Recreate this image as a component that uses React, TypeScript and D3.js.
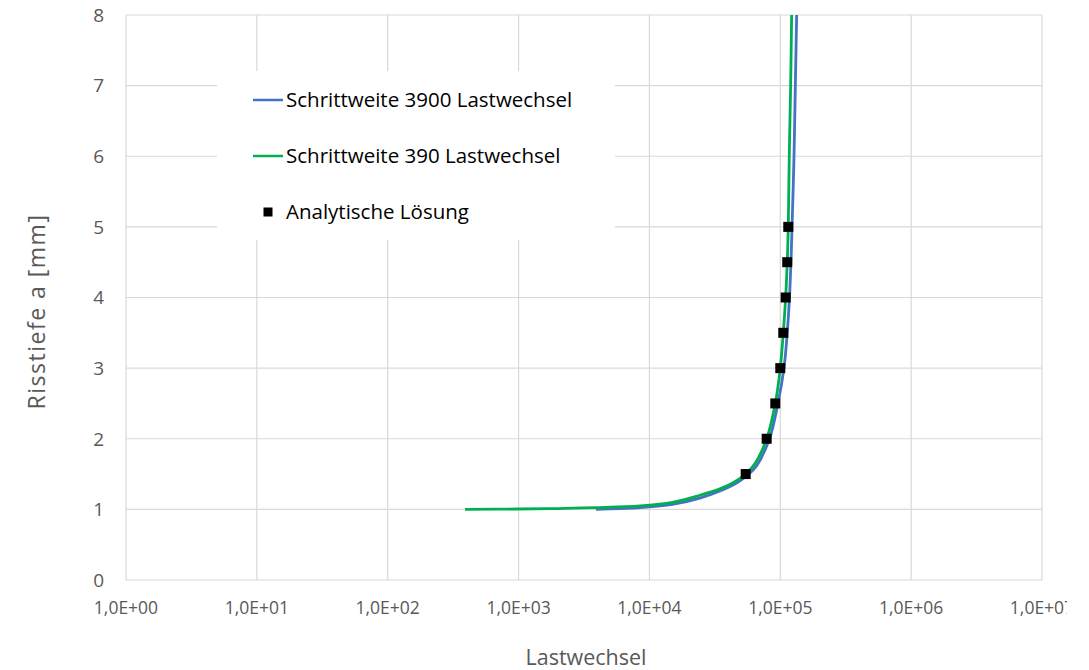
import React from "react";
import * as d3 from "d3";

// Load cycles (N) and crack depth a [mm] for the two step sizes
const STEP3900_N = [3900, 6000, 8470, 15000, 24300, 34600, 47000, 56600, 66000, 82700, 96000, 106700, 113000, 117600, 120600, 123000, 127300, 130300, 133400];
const STEP3900_A = [1.0, 1.012, 1.025, 1.07, 1.16, 1.26, 1.38, 1.49, 1.62, 2.0, 2.5, 3.0, 3.5, 4.0, 4.5, 5.0, 6.0, 7.0, 8.0];

const STEP390_N = [390, 1000, 2000, 3840, 8470, 15000, 24300, 34600, 44000, 54400, 64100, 78700, 91600, 100000, 105400, 109900, 113000, 115100, 117100, 120000, 122100];
const STEP390_A = [1.0, 1.005, 1.012, 1.025, 1.05, 1.1, 1.2, 1.29, 1.38, 1.5, 1.65, 2.0, 2.5, 3.0, 3.5, 4.0, 4.5, 5.0, 6.0, 7.0, 8.0];

// Analytical solution
const ANALYTIC_N = [54400, 78700, 91600, 100000, 105400, 109900, 113000, 115100];
const ANALYTIC_A = [1.5, 2.0, 2.5, 3.0, 3.5, 4.0, 4.5, 5.0];

const X_TICKS = [1, 10, 100, 1e3, 1e4, 1e5, 1e6, 1e7];
const X_TICK_LABELS = ["1,0E+00", "1,0E+01", "1,0E+02", "1,0E+03", "1,0E+04", "1,0E+05", "1,0E+06", "1,0E+07"];
const Y_TICKS = [0, 1, 2, 3, 4, 5, 6, 7, 8];

const SERIES_NAMES = ["Schrittweite 3900 Lastwechsel", "Schrittweite 390 Lastwechsel", "Analytische Lösung"];

const W = 1089;
const H = 670;
const M = { left: 126, right: 1042, top: 15, bottom: 580 };
const FONT = "'Open Sans', sans-serif";
const BLUE = "#4472C4";
const GREEN = "#00B050";
const GRID = "#D9D9D9";
const TICK = "#595959";

export default function App() {
  const x = d3.scaleLog().domain([1, 1e7]).range([M.left, M.right]);
  const y = d3.scaleLinear().domain([0, 8]).range([M.bottom, M.top]);

  const line = d3
    .line<[number, number]>()
    .x((d) => x(d[0]))
    .y((d) => y(d[1]))
    .curve(d3.curveCatmullRom.alpha(0.5));

  const blue = STEP3900_N.map((n, i) => [n, STEP3900_A[i]] as [number, number]);
  const green = STEP390_N.map((n, i) => [n, STEP390_A[i]] as [number, number]);
  const pts = ANALYTIC_N.map((n, i) => [n, ANALYTIC_A[i]] as [number, number]);

  const sq = 10;

  return (
    <svg
      width={W}
      height={H}
      style={{ position: "absolute", left: 0, top: 0, background: "#fff" }}
      fontFamily={FONT}
    >
      <defs>
        <clipPath id="plot-clip">
          <rect x={M.left} y={M.top} width={M.right - M.left} height={M.bottom - M.top} />
        </clipPath>
        <clipPath id="label-clip">
          <rect x={0} y={0} width={1067} height={H} />
        </clipPath>
      </defs>

      {/* grid */}
      {Y_TICKS.map((t) => (
        <line key={"hy" + t} x1={M.left} x2={M.right} y1={y(t)} y2={y(t)} stroke={GRID} strokeWidth={1.2} />
      ))}
      {X_TICKS.map((t) => (
        <line key={"vx" + t} x1={x(t)} x2={x(t)} y1={M.top} y2={M.bottom} stroke={GRID} strokeWidth={1.2} />
      ))}

      {/* y tick labels */}
      {Y_TICKS.map((t) => (
        <text key={"yl" + t} x={104} y={y(t)} dy="0.36em" textAnchor="end" fontSize={19} fill={TICK}>
          {t}
        </text>
      ))}

      {/* x tick labels */}
      <g clipPath="url(#label-clip)">
        {X_TICKS.map((t, i) => (
          <text key={"xl" + t} x={x(t)} y={614} textAnchor="middle" fontSize={17.5} fill={TICK}>
            {X_TICK_LABELS[i]}
          </text>
        ))}
      </g>

      {/* axis titles */}
      <text x={(M.left + M.right) / 2 + 2} y={665} textAnchor="middle" fontSize={21.5} fill={TICK}>
        Lastwechsel
      </text>
      <text
        transform={`translate(45, ${(M.top + M.bottom) / 2 + 14}) rotate(-90)`}
        textAnchor="middle"
        fontSize={23}
        letterSpacing={1.5}
        fill={TICK}
      >
        Risstiefe a [mm]
      </text>

      {/* legend */}
      <rect x={217} y={71} width={398} height={169} fill="#fff" />
      <line x1={253} x2={283} y1={100} y2={100} stroke={BLUE} strokeWidth={2.5} />
      <text x={286} y={100} dy="0.35em" fontSize={20.5} fill="#000">
        {SERIES_NAMES[0]}
      </text>
      <line x1={253} x2={283} y1={156} y2={156} stroke={GREEN} strokeWidth={2.5} />
      <text x={286} y={156} dy="0.35em" fontSize={20.5} fill="#000">
        {SERIES_NAMES[1]}
      </text>
      <rect x={268 - 4.5} y={212 - 4.5} width={9} height={9} fill="#000" />
      <text x={286} y={212} dy="0.35em" fontSize={20.5} fill="#000">
        {SERIES_NAMES[2]}
      </text>

      {/* series */}
      <g clipPath="url(#plot-clip)">
        <path d={line(blue) || ""} fill="none" stroke={BLUE} strokeWidth={2.8} />
        <path d={line(green) || ""} fill="none" stroke={GREEN} strokeWidth={2.8} />
      </g>
      {pts.map((p, i) => (
        <rect key={"p" + i} x={x(p[0]) - sq / 2} y={y(p[1]) - sq / 2} width={sq} height={sq} fill="#000" />
      ))}
    </svg>
  );
}
